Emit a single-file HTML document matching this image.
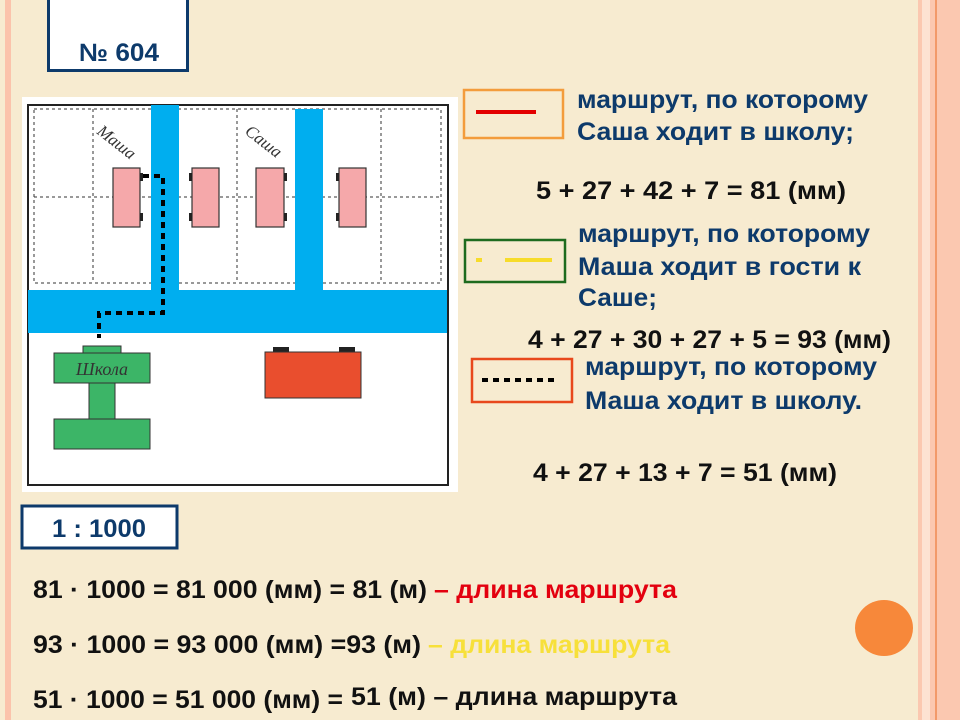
<!DOCTYPE html>
<html><head><meta charset="utf-8"><style>
html,body{margin:0;padding:0;background:#f7ebd0;}
svg{display:block;font-family:"Liberation Sans",sans-serif;}
</style></head><body>
<svg width="960" height="720" viewBox="0 0 960 720" xmlns="http://www.w3.org/2000/svg">
<rect width="960" height="720" fill="#f7ebd0"/>
<rect x="5" y="0" width="6" height="720" fill="#fbc3ab"/>
<rect x="918" y="0" width="42" height="720" fill="#fbc8b0"/>
<rect x="922" y="0" width="8" height="720" fill="#fde2d2"/>
<rect x="935" y="0" width="2" height="720" fill="#f29a6a"/>
<!-- title -->
<rect x="48.5" y="-5" width="139" height="75.5" fill="#fff" stroke="#0d3a6b" stroke-width="3"/>
<text x="79" y="61" font-size="25" font-weight="bold" fill="#0d3a6b" textLength="80" lengthAdjust="spacingAndGlyphs">№ 604</text>
<!-- map -->
<rect x="22" y="97" width="436" height="395" fill="#fff"/>
<rect x="28" y="105" width="420" height="380" fill="#fff" stroke="#222" stroke-width="2"/>
<g stroke="#333" stroke-width="1" stroke-dasharray="3,3" fill="none">
<rect x="34" y="109" width="407" height="174"/>
<line x1="34" y1="197" x2="441" y2="197"/>
<line x1="93" y1="109" x2="93" y2="283"/>
<line x1="237" y1="109" x2="237" y2="283"/>
<line x1="381" y1="109" x2="381" y2="283"/>
</g>
<rect x="151" y="105" width="28" height="186" fill="#00aeef"/>
<rect x="295" y="109" width="28" height="182" fill="#00aeef"/>
<rect x="28" y="290" width="419" height="43" fill="#00aeef"/>
<g fill="#f5a8aa" stroke="#333" stroke-width="1.2">
<rect x="113" y="168" width="27" height="59"/>
<rect x="192" y="168" width="27" height="59"/>
<rect x="256" y="168" width="28" height="59"/>
<rect x="339" y="168" width="27" height="59"/>
</g>
<g fill="#222">
<rect x="140" y="173" width="3" height="8"/><rect x="140" y="213" width="3" height="8"/>
<rect x="189" y="173" width="3" height="8"/><rect x="189" y="213" width="3" height="8"/>
<rect x="284" y="173" width="3" height="8"/><rect x="284" y="213" width="3" height="8"/>
<rect x="336" y="173" width="3" height="8"/><rect x="336" y="213" width="3" height="8"/>
</g>
<text x="96" y="133" font-family="Liberation Serif,serif" font-style="italic" font-size="17" fill="#333" transform="rotate(38 96 133)">Маша</text>
<text x="244" y="133" font-family="Liberation Serif,serif" font-style="italic" font-size="17" fill="#333" transform="rotate(38 244 133)">Саша</text>
<polyline points="143,176 163,176 163,313 99,313 99,338" fill="none" stroke="#000" stroke-width="4" stroke-dasharray="6,5"/>
<g fill="#3cb567" stroke="#333" stroke-width="1">
<rect x="83" y="346" width="38" height="7"/>
<rect x="54" y="353" width="96" height="30"/>
<rect x="89" y="383" width="26" height="36"/>
<rect x="54" y="419" width="96" height="30"/>
</g>
<text x="102" y="375" text-anchor="middle" font-family="Liberation Serif,serif" font-style="italic" font-size="18" fill="#333">Школа</text>
<rect x="273" y="347" width="16" height="6" fill="#222"/>
<rect x="339" y="347" width="16" height="6" fill="#222"/>
<rect x="265" y="352" width="96" height="46" fill="#e94e2e" stroke="#333" stroke-width="1"/>
<!-- legends -->
<rect x="464" y="90" width="99" height="48" fill="none" stroke="#f39c3c" stroke-width="2.5"/>
<line x1="476" y1="112" x2="536" y2="112" stroke="#e30000" stroke-width="4"/>
<rect x="465" y="240" width="100" height="42" fill="none" stroke="#1e6b1e" stroke-width="2.5"/>
<line x1="476" y1="260" x2="482" y2="260" stroke="#f7dc2a" stroke-width="4"/>
<line x1="505" y1="260" x2="552" y2="260" stroke="#f7dc2a" stroke-width="4"/>
<rect x="472" y="359" width="100" height="43" fill="none" stroke="#e8481c" stroke-width="2.5"/>
<line x1="482" y1="380" x2="558" y2="380" stroke="#000" stroke-width="4" stroke-dasharray="6,5"/>
<g font-size="25" font-weight="bold" fill="#0d3a6b" lengthAdjust="spacingAndGlyphs">
<text x="577" y="108" textLength="291" lengthAdjust="spacingAndGlyphs">маршрут, по которому</text>
<text x="577" y="140" textLength="277" lengthAdjust="spacingAndGlyphs">Саша ходит в школу;</text>
<text x="578" y="242" textLength="292" lengthAdjust="spacingAndGlyphs">маршрут, по которому</text>
<text x="578" y="275" textLength="283" lengthAdjust="spacingAndGlyphs">Маша ходит в гости к</text>
<text x="578" y="306" textLength="79" lengthAdjust="spacingAndGlyphs">Саше;</text>
<text x="585" y="375" textLength="292" lengthAdjust="spacingAndGlyphs">маршрут, по которому</text>
<text x="585" y="409" textLength="277" lengthAdjust="spacingAndGlyphs">Маша ходит в школу.</text>
</g>
<g font-size="25" font-weight="bold" fill="#111">
<text x="536" y="199" textLength="310" lengthAdjust="spacingAndGlyphs">5 + 27 + 42 + 7 =  81 (мм)</text>
<text x="528" y="348" textLength="363" lengthAdjust="spacingAndGlyphs">4 + 27 + 30 + 27 + 5 = 93 (мм)</text>
<text x="533" y="481" textLength="304" lengthAdjust="spacingAndGlyphs">4 + 27 + 13 + 7 = 51 (мм)</text>
</g>
<!-- scale -->
<rect x="22" y="506" width="155" height="42" fill="#fff" stroke="#0d3a6b" stroke-width="3"/>
<text x="52" y="537" font-size="25" font-weight="bold" fill="#0d3a6b" textLength="94" lengthAdjust="spacingAndGlyphs">1 : 1000</text>
<g font-size="25" font-weight="bold">
<text x="33" y="598" fill="#111" textLength="394" lengthAdjust="spacingAndGlyphs">81 · 1000 = 81 000 (мм) = 81 (м)</text>
<text x="434" y="598" fill="#e3000f" textLength="243" lengthAdjust="spacingAndGlyphs">– длина маршрута</text>
<text x="33" y="653" fill="#111" textLength="388" lengthAdjust="spacingAndGlyphs">93 · 1000 = 93 000 (мм) =93 (м)</text>
<text x="428" y="653" fill="#f7e03a" textLength="242" lengthAdjust="spacingAndGlyphs">– длина маршрута</text>
<text x="33" y="708" fill="#111" textLength="310" lengthAdjust="spacingAndGlyphs">51 · 1000 = 51 000 (мм) =</text>
<text x="351" y="705" fill="#111" textLength="326" lengthAdjust="spacingAndGlyphs">51 (м) – длина маршрута</text>
</g>
<ellipse cx="884" cy="628" rx="29" ry="28" fill="#f7883a"/>
</svg>
</body></html>
